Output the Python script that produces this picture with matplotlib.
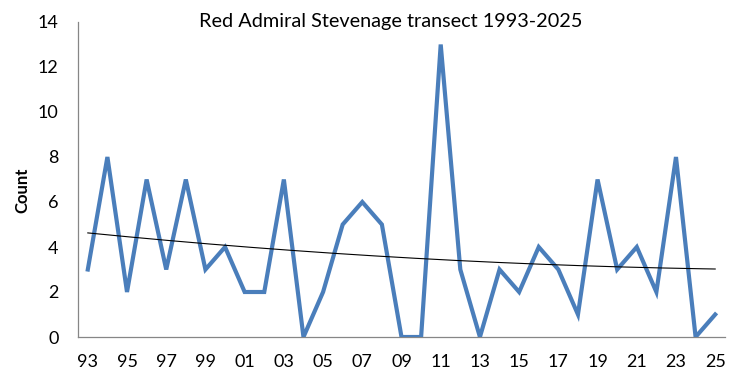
"""Red Admiral counts on the Stevenage transect, 1993-2025."""

import matplotlib

matplotlib.use("Agg")
import matplotlib.pyplot as plt
import numpy as np

YEARS = list(range(1993, 2026))
COUNTS = [3, 8, 2, 7, 3, 7, 3, 4, 2, 2, 7, 0, 2, 5, 6, 5, 0, 0, 13, 3, 0,
          3, 2, 4, 3, 1, 7, 3, 4, 2, 8, 0, 1]
YTICKS = [0, 2, 4, 6, 8, 10, 12, 14]
TITLE = "Red Admiral Stevenage transect 1993-2025"

LINE_COLOR = "#4A7EBB"
AXIS_COLOR = "#868686"

plt.rcParams["font.family"] = ["Lato", "DejaVu Sans"]


def main() -> None:
    x = np.arange(len(YEARS))
    y = np.array(COUNTS, dtype=float)

    fig = plt.figure(figsize=(7.38, 3.85), dpi=100)
    ax = fig.add_axes([78 / 738, 48 / 385, 647 / 738, 315 / 385])

    ax.plot(x, y, color=LINE_COLOR, linewidth=3.0, solid_joinstyle="miter", zorder=3)

    # 2nd order polynomial trend line, as Excel adds it
    coeffs = np.polyfit(x, y, 2)
    xs = np.linspace(x[0], x[-1], 200)
    ax.plot(xs, np.polyval(coeffs, xs), color="black", linewidth=0.8, zorder=4)

    ax.set_xlim(-0.5, len(YEARS) - 0.5)
    ax.set_ylim(0, 14)
    ax.set_yticks(YTICKS)
    ax.set_xticks(x[::2])
    ax.set_xticklabels([f"{yr % 100:02d}" for yr in YEARS[::2]])
    ax.tick_params(axis="both", length=0, labelsize=13, colors="black")
    ax.tick_params(axis="x", pad=12)
    ax.tick_params(axis="y", pad=14)

    for side in ("top", "right"):
        ax.spines[side].set_visible(False)
    for side in ("left", "bottom"):
        ax.spines[side].set_color(AXIS_COLOR)
        ax.spines[side].set_linewidth(0.9)

    fig.text(22 / 738, 1 - 190 / 385, "Count", rotation=90, ha="center", va="center",
             fontsize=12, fontweight="bold")
    fig.text(391 / 738, 1 - 22 / 385, TITLE, ha="center", va="center", fontsize=14.3)

    fig.savefig("out.png", dpi=100)
    plt.close(fig)


if __name__ == "__main__":
    main()
